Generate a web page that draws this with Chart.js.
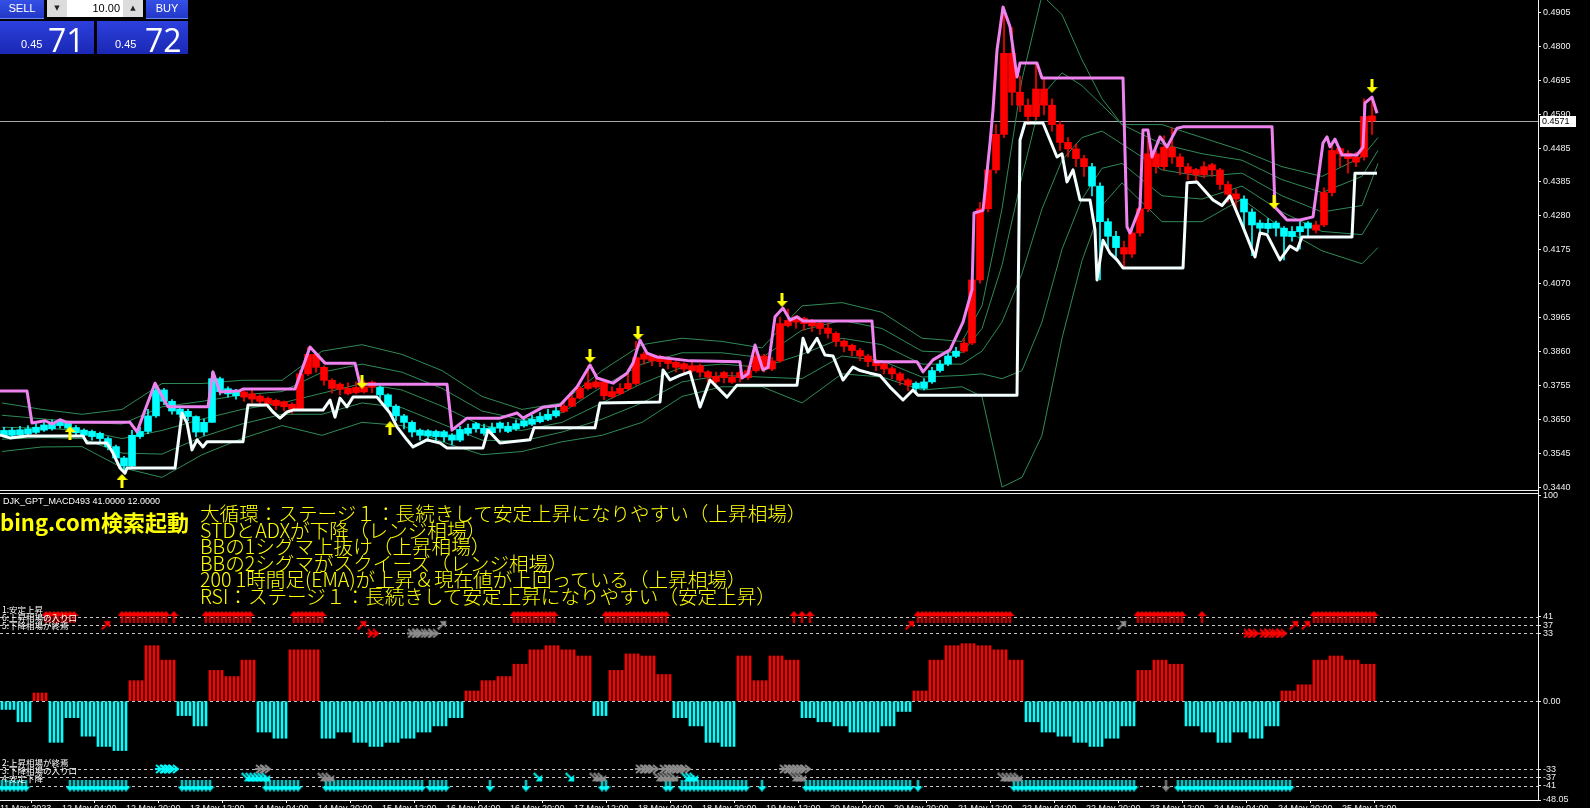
<!DOCTYPE html>
<html><head><meta charset="utf-8">
<script src="https://cdn.jsdelivr.net/npm/chart.js@4.4.1/dist/chart.umd.min.js"></script>
<style>
html,body{margin:0;padding:0;background:#000;width:1590px;height:808px;overflow:hidden;position:relative;font-family:'Liberation Sans',Arial,sans-serif;}
canvas{position:absolute;left:0;}
#main{top:0;}
#sub{top:492px;}
.ln{position:absolute;background:#f0f0f0;}
.hb{position:absolute;top:0;height:18px;background:linear-gradient(#3550e6,#2238c8);color:#fff;font-size:11px;line-height:17px;text-align:center;border-bottom:1px solid #6d86f0;}
.sp{position:absolute;top:0;height:17px;background:#dcdcdc;color:#222;font-size:7px;line-height:17px;text-align:center;font-family:'DejaVu Sans';}
.inp{position:absolute;top:0;height:17px;background:#fff;color:#000;font-size:11px;line-height:17px;text-align:right;padding-right:3px;box-sizing:border-box;}
.pn{position:absolute;top:21px;height:33px;background:linear-gradient(#2c40dc,#1a28b4);color:#fff;}
.pn .s{position:absolute;top:17px;font-size:11px;}
.pn .b{position:absolute;top:-3px;font-size:32px;font-family:'Open Sans','Liberation Sans';}
#ytext{position:absolute;left:200px;top:505px;color:#ffff00;font-family:'Noto Sans CJK JP';font-size:19.6px;line-height:16.6px;white-space:pre;font-weight:300;}
#bing{position:absolute;left:0;top:508px;color:#ffff00;font-family:'Noto Sans CJK JP';font-size:22px;line-height:26px;font-weight:700;white-space:pre;}
#ind{position:absolute;left:3px;top:496px;color:#fff;font-size:9px;line-height:10px;white-space:pre;}
.lab{position:absolute;left:2px;color:#fff;font-family:'Noto Sans CJK JP';font-size:8.5px;line-height:8.1px;white-space:pre;}
</style></head><body>
<canvas id="main" width="1590" height="490" style="width:1590px;height:490px"></canvas>
<canvas id="sub" width="1590" height="330" style="width:1590px;height:330px"></canvas>
<div class="ln" style="left:1538px;top:0;width:1px;height:801px"></div>
<div class="ln" style="left:0;top:490px;width:1539px;height:1px"></div>
<div class="ln" style="left:0;top:493px;width:1539px;height:1px"></div>
<div class="ln" style="left:0;top:800px;width:1539px;height:1px"></div>

<div class="hb" style="left:0;width:44px">SELL</div>
<div class="sp" style="left:47px;width:20px">▼</div>
<div class="inp" style="left:67px;width:56px">10.00</div>
<div class="sp" style="left:123px;width:20px">▲</div>
<div class="hb" style="left:146px;width:42px">BUY</div>
<div class="pn" style="left:0;width:94px"><span class="s" style="left:21px">0.45</span><span class="b" style="left:48px">71</span></div>
<div class="pn" style="left:97px;width:91px"><span class="s" style="left:18px">0.45</span><span class="b" style="left:48px">72</span></div>

<div id="ind">DJK_GPT_MACD493 41.0000 12.0000</div>
<div id="bing">bing.com検索起動</div>
<div id="ytext">大循環：ステージ１：長続きして安定上昇になりやすい（上昇相場）
STDとADXが下降（レンジ相場）
BBの1シグマ上抜け（上昇相場）
BBの2シグマがスクイーズ（レンジ相場）
200 1時間足(EMA)が上昇＆現在値が上回っている（上昇相場）
RSI：ステージ１：長続きして安定上昇になりやすい（安定上昇）</div>
<div class="lab" style="top:605px">1:安定上昇
6:上昇相場の入り口
5:下降相場が終焉</div>
<div class="lab" style="top:758px">2:上昇相場が終焉
3:下降相場の入り口
4:安定下降</div>

<script>
// ================= DATA =================
// prices are in 1/10000 units (e.g. 3615 = 0.3615); x values are hourly bar indices
const priceTickLabels = ['0.4905','0.4800','0.4695','0.4590','0.4485','0.4385','0.4280','0.4175','0.4070','0.3965','0.3860','0.3755','0.3650','0.3545','0.3440'];
const currentPrice = 0.4571;
const subTickValues = [100, 41, 37, 33, 0, -33, -37, -41, -48.05];
const subTickLabels = ['100', '41', '37', '33', '0.00', '-33', '-37', '-41', '-48.05'];
const subLevels = [41, 37, 33, 0, -33, -37, -41];
const timeTickBars = [-0.5,15,31,47,63,79,95,111,127,143,159,175,191,207,223,239,255,271,287,303,319,335];
const timeTickLabels = ['11 May 2023','12 May 04:00','12 May 20:00','13 May 12:00','14 May 04:00','14 May 20:00','15 May 12:00','16 May 04:00','16 May 20:00','17 May 12:00','18 May 04:00','18 May 20:00','19 May 12:00','20 May 04:00','20 May 20:00','21 May 12:00','22 May 04:00','22 May 20:00','23 May 12:00','24 May 04:00','24 May 20:00','25 May 12:00'];

// two-hour candles (candle k covers bars 2k and 2k+1)
const opens = [3599,3600,3601,3604,3609,3616,3620,3646,3638,3624,
3616,3612,3606,3590,3565,3530,3505,3596,3612,3660,
3740,3705,3681,3674,3658,3610,3640,3775,3744,3738,
3734,3728,3721,3714,3708,3704,3696,3680,3790,3850,
3810,3770,3758,3729,3732,3734,3764,3748,3725,3690,
3660,3640,3616,3614,3612,3611,3601,3585,3606,3636,
3606,3608,3638,3612,3620,3629,3634,3642,3649,3660,
3674,3690,3715,3745,3749,3765,3719,3729,3744,3760,
3851,3846,3844,3838,3826,3821,3799,3815,3796,3766,
3794,3764,3794,3778,3800,3845,3805,3830,3939,3966,
3961,3954,3946,3931,3915,3891,3878,3862,3845,3831,
3821,3806,3790,3771,3761,3745,3765,3800,3820,3844,
3860,3885,4080,4300,4420,4530,4780,4660,4620,4585,
4670,4620,4560,4505,4485,4455,4430,4370,4260,4215,
4180,4160,4225,4300,4470,4430,4490,4460,4430,4421,
4405,4436,4420,4375,4346,4330,4290,4256,4239,4256,
4240,4214,4229,4256,4234,4250,4350,4486,4471,4444,
4460,4587];
const closes = [3615,3616,3617,3620,3625,3632,3636,3630,3622,3608,
3600,3596,3590,3565,3530,3505,3600,3612,3660,3740,
3705,3675,3665,3658,3610,3640,3775,3735,3728,3722,
3718,3712,3705,3698,3692,3688,3680,3790,3850,3810,
3770,3745,3742,3745,3748,3750,3748,3725,3690,3660,
3640,3610,3600,3598,3596,3595,3585,3618,3622,3620,
3622,3624,3622,3628,3636,3645,3650,3658,3665,3676,
3690,3715,3745,3762,3765,3722,3735,3745,3760,3840,
3835,3830,3828,3822,3810,3805,3815,3795,3780,3782,
3778,3780,3778,3800,3845,3805,3830,3945,3955,3950,
3945,3938,3930,3915,3890,3875,3862,3845,3828,3815,
3805,3790,3770,3755,3745,3765,3800,3820,3845,3860,
3885,4080,4300,4420,4530,4780,4660,4620,4585,4670,
4620,4560,4505,4485,4455,4430,4370,4260,4215,4180,
4160,4225,4300,4470,4430,4490,4460,4430,4410,4405,
4430,4420,4375,4345,4330,4290,4250,4240,4255,4240,
4215,4230,4245,4240,4250,4350,4480,4470,4455,4460,
4585,4571];
const highs = [3625,3624,3628,3630,3636,3642,3648,3650,3642,3630,
3620,3616,3610,3595,3570,3535,3615,3625,3680,3760,
3745,3710,3688,3680,3660,3650,3795,3780,3750,3742,
3738,3740,3725,3718,3712,3706,3700,3800,3872,3855,
3815,3775,3762,3762,3765,3768,3768,3752,3728,3695,
3665,3645,3620,3618,3616,3615,3605,3628,3635,3640,
3635,3638,3642,3640,3648,3656,3662,3670,3680,3688,
3702,3728,3752,3815,3790,3770,3750,3760,3790,3890,
3858,3850,3848,3842,3830,3825,3828,3820,3800,3795,
3798,3795,3798,3815,3875,3850,3840,3965,3990,3970,
3965,3958,3950,3945,3920,3895,3882,3868,3850,3835,
3825,3812,3795,3775,3765,3775,3810,3832,3855,3872,
3900,4100,4320,4440,4560,4923,4860,4710,4640,4750,
4700,4640,4570,4520,4500,4465,4440,4380,4270,4230,
4200,4240,4320,4540,4480,4525,4550,4470,4440,4425,
4445,4440,4425,4385,4360,4340,4300,4265,4270,4262,
4245,4245,4260,4260,4262,4365,4500,4490,4480,4475,
4640,4645];
const lows = [3595,3596,3598,3600,3605,3612,3616,3622,3612,3600,
3592,3585,3575,3555,3520,3490,3500,3590,3605,3655,
3695,3665,3655,3645,3595,3600,3640,3725,3718,3712,
3705,3700,3695,3685,3680,3675,3668,3678,3785,3795,
3755,3730,3725,3725,3728,3730,3732,3712,3678,3645,
3620,3595,3585,3580,3582,3580,3570,3580,3600,3610,
3600,3604,3610,3608,3615,3625,3630,3638,3645,3655,
3670,3688,3712,3740,3745,3710,3715,3725,3740,3755,
3820,3815,3812,3805,3795,3790,3795,3780,3765,3760,
3762,3760,3765,3772,3795,3795,3800,3825,3935,3930,
3925,3920,3912,3900,3875,3858,3845,3830,3812,3800,
3790,3775,3755,3738,3730,3740,3760,3795,3815,3840,
3855,3880,4070,4290,4410,4520,4620,4600,4560,4575,
4590,4540,4480,4460,4430,4400,4340,4080,4180,4150,
4120,4150,4215,4290,4410,4420,4440,4405,4390,4385,
4395,4400,4360,4320,4300,4240,4155,4220,4225,4215,
4142,4200,4175,4215,4225,4245,4340,4430,4410,4430,
4450,4530];
// colour regime per candle range: r = red (rising), c = aqua (falling)
const candleRegimes = [[0,29,'c'],[30,46,'r'],[47,69,'c'],[70,113,'r'],[114,119,'c'],[120,135,'r'],[136,139,'c'],[140,154,'r'],[155,163,'c'],[164,171,'r']];

// violet upper stop line  [bar, price]
const violetLine = [[-0.5,3737],[6.25,3737],[7.5,3638],[10.75,3645],[12.5,3635],[14.5,3648],[16.25,3640],[32,3640],[33.75,3611],[38.25,3761],[41.5,3688],[51.5,3688],[52.75,3796],[54.5,3734],[59.5,3738],[60.25,3743],[73.25,3743],[77,3873],[80.75,3823],[88.25,3823],[89.5,3758],[111.25,3758],[112.5,3616],[116.25,3653],[124.5,3653],[128.75,3669],[130.25,3653],[135.25,3687],[139.5,3693],[143.75,3749],[147,3817],[148.75,3777],[152.75,3761],[156.25,3792],[157.75,3823],[159.5,3894],[161.25,3854],[163.75,3842],[172,3830],[184.5,3827],[185,3777],[186.5,3790],[188.25,3879],[190.25,3802],[191.5,3810],[193.25,3966],[195.25,3993],[197,3956],[198.75,3966],[200.25,3953],[217.5,3953],[218.25,3827],[228.75,3827],[230.25,3796],[232.75,3833],[237,3864],[240.25,3950],[242.5,4050],[243,4287],[245.25,4295],[247,4503],[247.75,4605],[248.75,4790],[250.25,4923],[252,4862],[253.75,4707],[254.5,4750],[258.75,4750],[260,4704],[280.25,4704],[281.25,4244],[282,4225],[284.5,4305],[285.25,4543],[286.5,4543],[287.5,4460],[289.5,4522],[291.25,4491],[293.75,4549],[295.25,4553],[317.5,4553],[318.25,4305],[321.25,4265],[324.5,4265],[327.75,4275],[330.25,4503],[331.25,4522],[332,4491],[333.25,4515],[335,4466],[338.75,4466],[340.25,4490],[340.75,4627],[342.5,4645],[343.75,4595]];
// white lower stop line [bar, price]
const whiteLine = [[-0.5,3601],[2,3592],[6.25,3598],[20.25,3598],[21.25,3576],[26.25,3576],[27.75,3545],[29.5,3499],[30.75,3483],[31.25,3499],[43.25,3499],[45,3669],[46.25,3638],[47.5,3555],[48.75,3586],[50.25,3564],[51.25,3580],[60.25,3580],[61.5,3694],[66.25,3694],[67.75,3672],[69.5,3653],[71.25,3672],[72.75,3678],[80.25,3678],[82,3709],[83.25,3656],[84.5,3715],[86.25,3688],[87.75,3718],[93.75,3718],[97,3669],[98.75,3626],[101.25,3586],[102.75,3564],[106.25,3586],[109.5,3576],[111.25,3561],[120.25,3561],[121.5,3616],[124.5,3576],[132,3586],[133,3623],[148.25,3623],[149.5,3700],[164.5,3703],[165.25,3802],[167,3771],[169.5,3785],[172,3796],[174.5,3687],[177,3771],[181.25,3718],[183.75,3755],[198.75,3755],[200.25,3900],[201.5,3857],[203.75,3900],[205.75,3848],[207.75,3845],[210.25,3771],[212.75,3811],[214.5,3800],[217,3792],[219.5,3785],[222,3749],[225.25,3709],[227.75,3740],[229,3724],[253.75,3724],[254.5,4512],[255.75,4565],[260.25,4565],[263.75,4460],[265,4470],[266.25,4383],[267.75,4420],[269.5,4327],[272,4327],[273.25,4234],[273.75,4080],[275.25,4203],[277,4163],[278.75,4142],[280.25,4117],[295.25,4117],[296.25,4380],[298.75,4383],[302.75,4327],[305,4310],[307,4340],[310.25,4244],[313.25,4151],[314.5,4225],[316.25,4220],[319.5,4142],[322,4185],[323.75,4172],[325,4213],[337.5,4213],[338.25,4410],[343.75,4410]];

// Bollinger bands (thin green)
const bbBars = [0,10,20,30,40,50,60,70,80,90,100,110,120,130,140,150,160,170,180,190,200,210,220,230,240,245,250,255,260,265,270,275,280,290,300,310,320,330,340,344];
const bbUpper2 = [3700,3680,3665,3680,3760,3760,3770,3770,3860,3880,3850,3800,3720,3680,3700,3800,3880,3900,3890,3870,4000,4010,3980,3900,3890,4000,4300,4700,4960,4900,4760,4640,4560,4560,4520,4480,4430,4400,4460,4520];
const bbUpper1 = [3662,3651,3640,3635,3688,3705,3725,3735,3795,3820,3795,3745,3675,3648,3670,3750,3820,3855,3855,3840,3925,3955,3930,3860,3855,3930,4125,4400,4650,4720,4680,4620,4560,4500,4470,4450,4390,4350,4400,4480];
const bbMiddle = [3625,3622,3615,3590,3615,3650,3680,3700,3730,3760,3740,3690,3630,3615,3640,3700,3760,3810,3820,3810,3850,3900,3880,3820,3820,3860,3950,4100,4300,4450,4520,4540,4500,4420,4400,4410,4340,4290,4310,4440];
const bbLower1 = [3588,3593,3590,3545,3542,3595,3635,3665,3665,3700,3685,3635,3585,3582,3610,3650,3700,3765,3785,3780,3775,3845,3830,3780,3785,3790,3775,3800,3950,4175,4330,4425,4440,4340,4330,4370,4290,4230,4220,4300];
const bbLower2 = [3550,3564,3565,3500,3470,3540,3590,3630,3600,3640,3630,3580,3540,3550,3580,3600,3640,3720,3750,3750,3700,3790,3780,3740,3750,3720,3440,3470,3600,3900,4140,4310,4380,4260,4260,4330,4240,4170,4130,4180];

// yellow signal arrows [bar, price]
const signalUp = [[17,3607],[30,3459],[97,3622]];
const signalDown = [[90,3765],[147,3845],[159,3916],[195,4018],[318,4321],[342.5,4679]];

// lower panel histogram, one value per 4-hour block
const hist4h = [-4,-10,4,-20,-8,-17,-22,-24,10,27,20,-7,-12,15,12,20,-15,-18,25,25,
-18,-15,-20,-22,-20,-18,-15,-12,-8,5,10,12,18,25,27,25,22,-7,15,23,
22,13,-8,-12,-20,-22,22,10,22,20,-8,-10,-12,-15,-15,-12,-5,5,20,27,
28,27,25,20,-10,-15,-17,-20,-22,-18,-12,15,20,18,-12,-15,-20,-15,-18,-12,
5,8,20,22,20,18];

// lower panel arrow rows: bar ranges [from, to]
const row41Up = [[11,18],[30,41],[43,43],[51,62],[73,80],[128,138],[151,166],[198,198],[200,200],[202,202],[229,252],[284,295],[300,300],[328,343]];
const row37UpRed = [[26,26],[90,90],[227,227],[323,323],[326,326]];
const row37UpGray = [[110,110],[280,280]];
const row33RightRed = [[93,93],[312,313],[316,317],[319,320]];
const row33RightGray = [[103,105],[107,108]];
const rowM33RightAqua = [[40,43]];
const rowM33RightGray = [[65,66],[160,163],[166,171],[196,201]];
const rowM37DownAqua = [[61,66],[134,134],[142,142],[171,173]];
const rowM37DownGray = [[80,82],[148,150],[164,168],[198,200],[250,254]];
const rowM41DownAqua = [[0,6],[17,31],[45,52],[66,74],[81,105],[107,111],[122,122],[131,131],[150,151],[166,167],[170,186],[190,190],[201,227],[229,229],[253,283],[294,322]];
const rowM41DownGray = [[291,291]];

// ================= RENDER =================
const RED = '#ff0000', AQUA = '#00ffff', VIOLET = '#ee82ee', GREEN = '#2e8b57', GRAY = '#8c8c8c';
const P = v => v / 10000;
const X_MIN = -0.5, X_MAX = 384;
const tickFont = {family: 'Liberation Sans', size: 9};

function arrowImg(color, w, h, headH, shaft) {
  const c = document.createElement('canvas'); c.width = w; c.height = h;
  const g = c.getContext('2d'); g.fillStyle = color;
  g.beginPath();
  g.moveTo(w / 2, 0); g.lineTo(w, headH); g.lineTo(w / 2 + shaft / 2, headH);
  g.lineTo(w / 2 + shaft / 2, h); g.lineTo(w / 2 - shaft / 2, h); g.lineTo(w / 2 - shaft / 2, headH);
  g.lineTo(0, headH); g.closePath(); g.fill();
  return c;
}
function chevronImg(color) {
  const c = document.createElement('canvas'); c.width = 14; c.height = 10;
  const g = c.getContext('2d'); g.strokeStyle = color; g.lineWidth = 2;
  [1, 6].forEach(o => { g.beginPath(); g.moveTo(o, 1); g.lineTo(o + 5, 5); g.lineTo(o, 9); g.stroke(); });
  g.beginPath(); g.moveTo(0, 5); g.lineTo(11, 5); g.stroke();
  return c;
}

const pairs = arr => arr.map(([x, y]) => ({x, y: P(y)}));
const bb = vals => bbBars.map((b, i) => ({x: b, y: P(vals[i])}));
const candleColor = closes.map((_, k) => {
  const r = candleRegimes.find(([a, b]) => k >= a && k <= b);
  return r && r[2] === 'r' ? RED : AQUA;
});
const bodies = closes.map((c, k) => ({x: 2 * k + 0.5, y: [P(opens[k]), P(c)]}));
const wicks = closes.map((c, k) => ({x: 2 * k + 0.5, y: [P(lows[k]), P(highs[k])]}));

function lineDs(data, color, width, order) {
  return {type: 'line', data, borderColor: color, borderWidth: width, pointRadius: 0, tension: 0, fill: false, order, borderJoinStyle: 'round'};
}
const yellowUp = arrowImg('#ffff00', 11, 14, 6, 3);

const zeroPad = s => { s.paddingTop = 0; s.paddingBottom = 0; s.paddingLeft = 0; s.paddingRight = 0; };

const curPricePlugin = {
  id: 'curPrice',
  beforeDatasetsDraw(c) {
    const y = Math.round(c.scales.y.getPixelForValue(currentPrice)) + 0.5, g = c.ctx;
    g.save(); g.strokeStyle = '#a8a8a8'; g.lineWidth = 1;
    g.beginPath(); g.moveTo(0, y); g.lineTo(c.chartArea.right, y); g.stroke(); g.restore();
  },
  afterDraw(c) {
    const y = Math.round(c.scales.y.getPixelForValue(currentPrice)), g = c.ctx, x = c.chartArea.right + 2;
    g.save(); g.fillStyle = '#fff'; g.fillRect(x, y - 5, 36, 11);
    g.fillStyle = '#000'; g.font = '9px Liberation Sans'; g.textBaseline = 'middle'; g.textAlign = 'left';
    g.fillText(currentPrice.toFixed(4), x + 2, y + 1); g.restore();
  }
};

new Chart(document.getElementById('main'), {
  type: 'bar',
  data: {datasets: [
    {type: 'scatter', data: pairs(signalUp), pointStyle: yellowUp, pointRadius: 6, order: 0},
    {type: 'scatter', data: pairs(signalDown), pointStyle: yellowUp, rotation: 180, pointRadius: 6, order: 0},
    lineDs(pairs(whiteLine), '#f4ffff', 3, 1),
    lineDs(pairs(violetLine), VIOLET, 3, 2),
    {type: 'bar', data: bodies, backgroundColor: candleColor, barThickness: 7, minBarLength: 1, grouped: false, order: 3},
    {type: 'bar', data: wicks, backgroundColor: candleColor, barThickness: 1, grouped: false, order: 4},
    lineDs(bb(bbUpper2), GREEN, 1, 5), lineDs(bb(bbUpper1), GREEN, 1, 5), lineDs(bb(bbMiddle), GREEN, 1, 5),
    lineDs(bb(bbLower1), GREEN, 1, 5), lineDs(bb(bbLower2), GREEN, 1, 5)
  ]},
  options: {
    responsive: false, animation: false, events: [],
    layout: {padding: 0, autoPadding: false},
    plugins: {legend: {display: false}, tooltip: {enabled: false}},
    scales: {
      x: {type: 'linear', min: X_MIN, max: X_MAX, display: false, offset: false},
      y: {
        position: 'right', min: 0.3431, max: 0.4945,
        afterBuildTicks: s => { s.ticks = priceTickLabels.map(t => ({value: parseFloat(t)})); },
        afterFit: s => { s.width = 52; zeroPad(s); },
        ticks: {callback: (v, i) => priceTickLabels[i], color: '#f0f0f0', font: tickFont, padding: 2, autoSkip: false},
        grid: {drawOnChartArea: false, drawTicks: true, tickLength: 3, color: '#f0f0f0'},
        border: {display: false}
      }
    }
  },
  plugins: [curPricePlugin]
});

// ---- lower panel ----
const expand = (ranges, y) => { const out = []; ranges.forEach(([a, b]) => { for (let i = a; i <= b; i++) out.push({x: i, y}); }); return out; };
const histData = [], histColors = [];
hist4h.forEach((v, m) => { for (let j = 0; j < 4; j++) { const b = 4 * m + j; if (b <= 343) { histData.push({x: b, y: v}); histColors.push(v >= 0 ? RED : AQUA); } } });

const upRed = arrowImg(RED, 9, 12, 5, 2), upAqua = arrowImg(AQUA, 9, 12, 5, 2), upGray = arrowImg(GRAY, 9, 12, 5, 2);
const chevGray = chevronImg(GRAY), chevAqua = chevronImg(AQUA), chevRed = chevronImg(RED);
function arrowDs(ranges, y, img, rot) {
  return {type: 'scatter', data: expand(ranges, y), pointStyle: img, rotation: rot, pointRadius: 5, order: 0};
}

const levelsPlugin = {
  id: 'levels',
  beforeDatasetsDraw(c) {
    const g = c.ctx, a = c.chartArea;
    g.save(); g.strokeStyle = '#c8c8c8'; g.lineWidth = 1; g.setLineDash([3, 3]);
    subLevels.forEach(v => { const y = Math.round(c.scales.y.getPixelForValue(v)) + 0.5; g.beginPath(); g.moveTo(a.left, y); g.lineTo(a.right, y); g.stroke(); });
    g.restore();
  }
};

new Chart(document.getElementById('sub'), {
  type: 'bar',
  data: {datasets: [
    {type: 'bar', data: histData, backgroundColor: histColors, barThickness: 2, grouped: false, order: 2},
    arrowDs(row41Up, 41, upRed, 0),
    arrowDs(row37UpRed, 37, upRed, 45),
    arrowDs(row37UpGray, 37, upGray, 45),
    arrowDs(row33RightRed, 33, chevRed, 0),
    arrowDs(row33RightGray, 33, chevGray, 0),
    arrowDs(rowM33RightAqua, -33, chevAqua, 0),
    arrowDs(rowM33RightGray, -33, chevGray, 0),
    arrowDs(rowM37DownAqua, -37, upAqua, 135),
    arrowDs(rowM37DownGray, -37, upGray, 135),
    arrowDs(rowM41DownAqua, -41, upAqua, 180),
    arrowDs(rowM41DownGray, -41, upGray, 180)
  ]},
  options: {
    responsive: false, animation: false, events: [],
    layout: {padding: {top: 2, left: 0, right: 0, bottom: 0}, autoPadding: false},
    plugins: {legend: {display: false}, tooltip: {enabled: false}},
    scales: {
      x: {
        type: 'linear', min: X_MIN, max: X_MAX, offset: false, position: 'bottom',
        afterBuildTicks: s => { s.ticks = timeTickBars.map(v => ({value: v})); },
        afterFit: s => { s.height = 22; zeroPad(s); },
        ticks: {callback: (v, i) => timeTickLabels[i], color: '#f0f0f0', font: tickFont, padding: 0, align: 'start', maxRotation: 0, minRotation: 0, autoSkip: false},
        grid: {drawOnChartArea: false, drawTicks: true, tickLength: 3, color: '#f0f0f0'},
        border: {display: false}
      },
      y: {
        position: 'right', min: -48.05, max: 100.8,
        afterBuildTicks: s => { s.ticks = subTickValues.map(v => ({value: v})); },
        afterFit: s => { s.width = 52; zeroPad(s); },
        ticks: {callback: (v, i) => subTickLabels[i], color: '#f0f0f0', font: tickFont, padding: 2, autoSkip: false},
        grid: {drawOnChartArea: false, drawTicks: true, tickLength: 3, color: '#f0f0f0'},
        border: {display: false}
      }
    }
  },
  plugins: [levelsPlugin]
});
</script>
</body></html>
